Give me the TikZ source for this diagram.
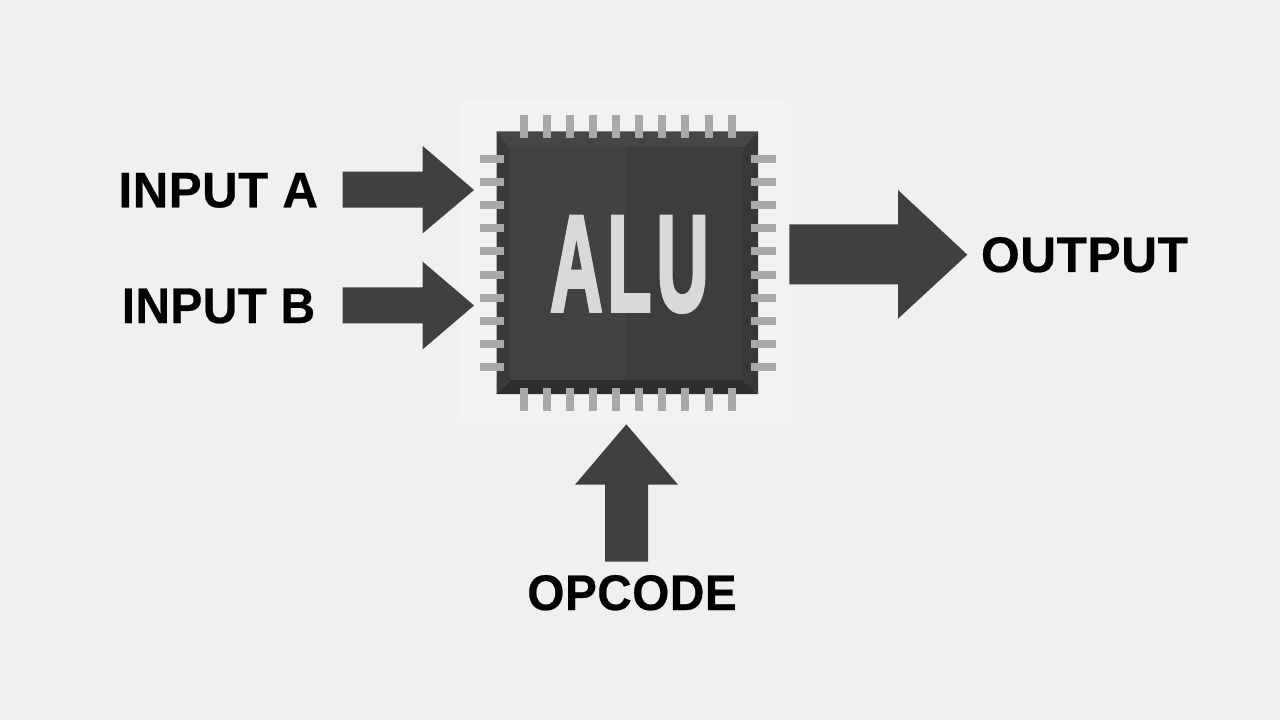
\documentclass[tikz,border=0pt]{standalone}
\usepackage{fontspec}
\setmainfont{Liberation Sans}
\newfontfamily\alufont{Liberation Sans Bold}[FakeBold=3.4,LetterSpace=7,Kerning=Off]
\newfontfamily\labfont{Liberation Sans Bold}[FakeBold=0.5,LetterSpace=1]
\definecolor{bgc}{HTML}{F0F0F0}
\definecolor{halo}{HTML}{F2F2F2}
\definecolor{arrowc}{HTML}{404040}
\definecolor{pinc}{HTML}{A9A9A9}
\definecolor{face}{HTML}{424242}
\definecolor{faced}{HTML}{3D3D3D}
\definecolor{bevT}{HTML}{464646}
\definecolor{bevL}{HTML}{3A3A3A}
\definecolor{bevR}{HTML}{383838}
\definecolor{bevB}{HTML}{2E2E2E}
\definecolor{alut}{HTML}{D9D9D9}
\tikzset{
  px/.style={x=0.75pt,y=-0.75pt},
  blockarrow/.style={fill=arrowc,draw=none},
  pin/.style={fill=pinc,draw=none},
  lab/.style={font=\labfont\fontsize{37.5pt}{40pt}\selectfont,text=black,inner sep=0pt,anchor=base}
}
\begin{document}
\begin{tikzpicture}[px]
\useasboundingbox (0,0) rectangle (1280,720);
\fill[bgc] (0,0) rectangle (1280,720);
\fill[halo,rounded corners=3pt] (460,100) rectangle (790,424);
% chip bevels
\fill[bevT] (496.5,131.5) -- (758,131.5) -- (743,147) -- (510,147) -- cycle;
\fill[bevL] (496.5,131.5) -- (510,147) -- (510,380) -- (496.5,394) -- cycle;
\fill[bevR] (758,131.5) -- (743,147) -- (743,380) -- (758,394) -- cycle;
\fill[bevB] (496.5,394) -- (510,380) -- (743,380) -- (758,394) -- cycle;
% chip face
\fill[face] (510,147) rectangle (626,380);
\fill[faced] (626,147) rectangle (743,380);
% pins
\foreach \i in {0,...,9}{
  \pgfmathsetmacro{\px}{523.7+23.11*\i}
  \pgfmathsetmacro{\py}{159+23.11*\i}
  \fill[pin] (\px-4,115) rectangle (\px+4,138.5);
  \fill[pin] (\px-4,387.5) rectangle (\px+4,411);
  \fill[pin] (480,\py-4) rectangle (503.5,\py+4);
  \fill[pin] (751,\py-4) rectangle (775.7,\py+4);
}
\node[inner sep=0pt,anchor=base,text=alut,font=\alufont\fontsize{102pt}{110pt}\selectfont,xscale=0.53] (alu) at (629.5,310.5) {ALU};
% arrows
\fill[blockarrow] (342.7,171.7) -- (422.7,171.7) -- (422.7,146) -- (474,190) -- (422.7,233.3) -- (422.7,207.7) -- (342.7,207.7) -- cycle;
\fill[blockarrow] (342.7,287.3) -- (422.7,287.3) -- (422.7,261.7) -- (474,305.5) -- (422.7,349.3) -- (422.7,323.3) -- (342.7,323.3) -- cycle;
\fill[blockarrow] (789.3,224.3) -- (898,224.3) -- (898,190) -- (967.3,254.7) -- (898,318.7) -- (898,284.3) -- (789.3,284.3) -- cycle;
\fill[blockarrow] (605,561.7) -- (605,484.7) -- (575,484.7) -- (626.3,424.3) -- (678,484.7) -- (648,484.7) -- (648,561.7) -- cycle;
% labels
\node[lab,xscale=0.985] (ina) at (218.3,207.3) {INPUT A};
\node[lab,xscale=0.955] (inb) at (218.5,323) {INPUT B};
\node[lab,xscale=0.995] (out) at (1084.5,272) {OUTPUT};
\node[lab,xscale=0.955] (op) at (632,610) {OPCODE};
\end{tikzpicture}
\end{document}
